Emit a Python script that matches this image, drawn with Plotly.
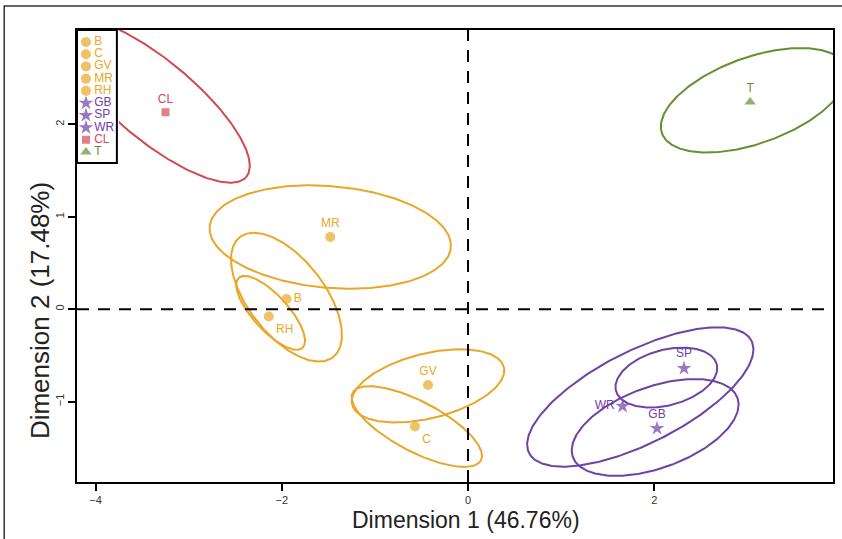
import numpy as np
import plotly.graph_objects as go

# ---------------- data ----------------
labels = ["B", "C", "GV", "MR", "RH", "GB", "SP", "WR", "CL", "T"]
groups = ["g1", "g1", "g1", "g1", "g1", "g2", "g2", "g2", "g3", "g4"]
dim1 = [-1.95, -0.57, -0.43, -1.48, -2.14, 2.03, 2.32, 1.66, -3.25, 3.03]
dim2 = [0.11, -1.27, -0.82, 0.78, -0.08, -1.29, -0.64, -1.05, 2.13, 2.24]

# confidence ellipses: centre, semi-axes, rotation (deg)
ell_cx = [-1.95, -0.55, -0.43, -1.48, -2.12, 2.01, 2.13, 1.85, -3.37, 3.07]
ell_cy = [0.13, -1.27, -0.83, 0.78, -0.04, -1.28, -0.74, -0.95, 2.26, 2.26]
ell_a = [0.82, 0.78, 0.84, 1.30, 0.51, 0.94, 0.56, 1.34, 1.29, 1.05]
ell_b = [0.41, 0.27, 0.35, 0.55, 0.19, 0.44, 0.30, 0.50, 0.43, 0.465]
ell_theta = [-52.5, -28, 14, -5, -48, 20, 15, 27, -40, 20]

x_ticks = [-4, -2, 0, 2]
y_ticks = [-1, 0, 1, 2]
x_title = "Dimension 1 (46.76%)"
y_title = "Dimension 2 (17.48%)"

# ---------------- styles ----------------
group_color = {"g1": "#EAA627", "g2": "#6E42A6", "g3": "#D24B52", "g4": "#63912F"}
group_symbol = {"g1": "circle", "g2": "star", "g3": "square", "g4": "triangle-up"}
group_size = {"g1": 10, "g2": 11, "g3": 8, "g4": 10}
label_pos = {"B": "middle right", "C": "bottom right", "GV": "top center",
             "MR": "top center", "RH": "bottom right", "GB": "top center",
             "SP": "top center", "WR": "middle left", "CL": "top center",
             "T": "top center"}

colors = [group_color[g] for g in groups]
symbols = [group_symbol[g] for g in groups]
sizes = [group_size[g] for g in groups]

FONT = "Liberation Sans, Arial, sans-serif"

fig = go.Figure()

t = np.linspace(0, 2 * np.pi, 300)
for i in range(len(labels)):
    th = np.deg2rad(ell_theta[i])
    ex = ell_cx[i] + ell_a[i] * np.cos(t) * np.cos(th) - ell_b[i] * np.sin(t) * np.sin(th)
    ey = ell_cy[i] + ell_a[i] * np.cos(t) * np.sin(th) + ell_b[i] * np.sin(t) * np.cos(th)
    fig.add_trace(go.Scatter(x=ex, y=ey, mode="lines",
                             line=dict(color=colors[i], width=2),
                             hoverinfo="skip", showlegend=False))

fig.add_trace(go.Scatter(
    x=dim1, y=dim2, mode="markers+text",
    marker=dict(color=colors, symbol=symbols, size=sizes, line=dict(width=0)),
    text=labels, textposition=[label_pos[l] for l in labels],
    textfont=dict(color=colors, size=12, family=FONT),
    showlegend=False, hoverinfo="text"))

# ---------------- custom compact legend (inset subplot) ----------------
n = len(labels)
row_y = [0.91 - i * (0.827 / (n - 1)) for i in range(n)]
fig.add_trace(go.Scatter(x=[0, 1, 1, 0, 0], y=[0, 0, 1, 1, 0], mode="lines",
                         fill="toself", fillcolor="white",
                         line=dict(color="black", width=2),
                         xaxis="x2", yaxis="y2", hoverinfo="skip", showlegend=False))
fig.add_trace(go.Scatter(x=[0.225] * n, y=row_y, mode="markers",
                         marker=dict(color=colors, symbol=symbols,
                                     size=sizes, line=dict(width=0)),
                         xaxis="x2", yaxis="y2", hoverinfo="skip", showlegend=False))
fig.add_trace(go.Scatter(x=[0.43] * n, y=row_y, mode="text", text=labels,
                         textposition="middle right",
                         textfont=dict(color=colors, size=12, family=FONT),
                         xaxis="x2", yaxis="y2", hoverinfo="skip", showlegend=False))

# ---------------- layout ----------------
W, H = 842, 539
ml, mr, mt, mb = 77, 7, 30, 57
pw, ph = W - ml - mr, H - mt - mb

axis_common = dict(showline=True, mirror=True, linecolor="black", linewidth=2,
                   ticks="outside", ticklen=7, tickwidth=2, tickcolor="black",
                   showgrid=False, zeroline=False,
                   tickfont=dict(size=11, color="#333333", family=FONT))

fig.update_layout(
    width=W, height=H,
    margin=dict(l=ml, r=mr, t=mt, b=mb),
    paper_bgcolor="white", plot_bgcolor="white",
    showlegend=False,
    font=dict(family=FONT, color="#222222"),
    xaxis=dict(range=[-4.20, 3.92], tickvals=x_ticks, ticktext=[str(v).replace("-", "−") for v in x_ticks],
               **axis_common),
    yaxis=dict(range=[-1.87, 3.02], tickvals=y_ticks, ticktext=[str(v).replace("-", "−") for v in y_ticks],
               tickangle=-90, **axis_common),
    xaxis2=dict(domain=[0, 42 / pw], range=[0, 1.05], anchor="y2", visible=False, fixedrange=True),
    yaxis2=dict(domain=[1 - 135 / ph, 1], range=[-0.015, 1], anchor="x2", visible=False, fixedrange=True),
    shapes=[
        dict(type="line", xref="x", yref="y domain", x0=0, x1=0, y0=0, y1=1,
             line=dict(color="black", width=2, dash="12px,9px"), layer="above"),
        dict(type="line", xref="x domain", yref="y", x0=0, x1=1, y0=0, y1=0,
             line=dict(color="black", width=2, dash="12px,9px"), layer="above"),
        dict(type="rect", xref="paper", yref="paper",
             x0=(4 - ml) / pw, x1=(W + 4 - ml) / pw,
             y0=-(H + 6 - mt - ph) / ph, y1=(ph + mt - 6) / ph,
             line=dict(color="#333333", width=1.5), fillcolor="rgba(0,0,0,0)", layer="below"),
    ],
    annotations=[
        dict(text=y_title, xref="paper", yref="paper",
             x=(40 - ml) / pw, y=(ph + mt - 311) / ph, showarrow=False,
             textangle=-90, font=dict(size=26, color="#222222", family=FONT),
             xanchor="center", yanchor="middle"),
        dict(text=x_title, xref="paper", yref="paper",
             x=(467 - ml) / pw, y=(ph + mt - 520) / ph, showarrow=False,
             font=dict(size=23, color="#222222", family=FONT),
             xanchor="center", yanchor="middle"),
    ],
)

fig.write_html("out.html")
